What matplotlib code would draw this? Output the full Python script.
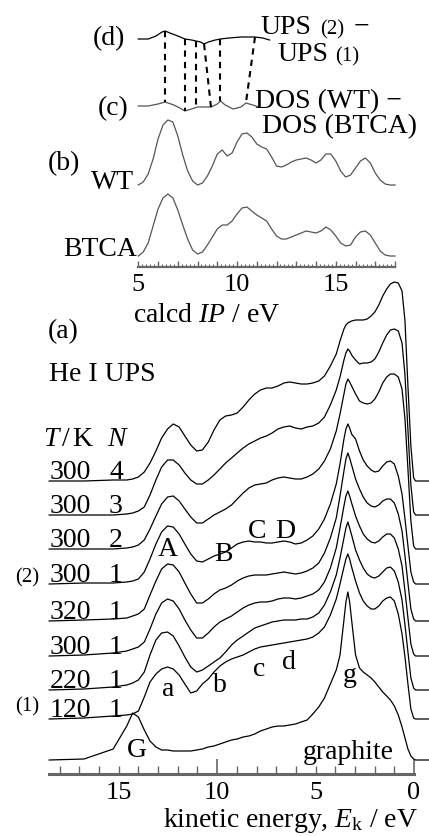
import numpy as np
import matplotlib
matplotlib.use('Agg')
import matplotlib.pyplot as plt

plt.rcParams['font.family'] = ['Liberation Serif', 'DejaVu Serif']
plt.rcParams['mathtext.fontset'] = 'custom'
plt.rcParams['mathtext.rm'] = 'Liberation Serif'
plt.rcParams['mathtext.it'] = 'Liberation Serif:italic'

# ---- data ----
# (a) He I UPS, kinetic energy grid (eV) and intensities (arb. units)
ek = [18.53, 16.76, 15.28, 14.59, 14.29, 14.00, 13.70, 13.41, 13.11, 12.82,
      12.52, 12.23, 11.93, 11.64, 11.34, 11.04, 10.75, 10.45, 10.16, 9.86,
      9.57, 9.27, 8.98, 8.68, 8.39, 8.09, 7.80, 7.50, 7.21, 6.91,
      6.61, 6.32, 6.02, 5.73, 5.43, 5.14, 4.84, 4.55, 4.25, 3.95,
      3.76, 3.56, 3.46, 3.36, 3.27, 3.17, 2.97, 2.77, 2.58, 2.38,
      2.18, 1.99, 1.79, 1.59, 1.39, 1.20, 1.00, 0.80, 0.61, 0.46,
      0.31, 0.16, 0.02, -0.08, -0.77]

ups_300_4 = [0, 0, 1, 1, 2, 4, 9, 18, 30, 43, 52, 57, 54, 45, 36, 30, 31, 39, 51, 61,
             65, 66, 68, 74, 81, 87, 91, 93, 93, 95, 98, 99, 98, 97, 97, 98, 100, 105, 115, 127,
             140, 152, 156, 158, 159, 160, 161, 161, 161, 162, 165, 169, 176, 185, 192, 197, 199, 198, 190, 160,
             95, 35, 3, 0, 0]
ups_300_3 = [0, 0, 0, 1, 2, 4, 8, 20, 35, 48, 55, 55, 50, 42, 35, 31, 31, 35, 40, 46,
             52, 57, 62, 67, 71, 74, 77, 79, 82, 86, 88, 89, 87, 86, 88, 89, 92, 98, 110, 125,
             138, 155, 162, 166, 164, 160, 155, 151, 152, 152, 153, 156, 163, 172, 180, 185, 186, 184, 172, 140,
             85, 30, 3, 0, 0]
ups_300_2 = [0, 0, 0, 1, 2, 4, 9, 20, 33, 45, 52, 53, 48, 40, 32, 26, 26, 30, 34, 37,
             40, 44, 50, 56, 61, 64, 65, 66, 69, 71, 72, 71, 70, 70, 72, 75, 80, 88, 100, 118,
             135, 155, 165, 170, 167, 163, 155, 148, 146, 145, 146, 150, 157, 166, 172, 175, 175, 172, 160, 130,
             80, 28, 3, 0, 0]
ups_300_1b = [0, 1, 1, 2, 3, 5, 12, 25, 40, 52, 58, 57, 50, 40, 30, 23, 22, 25, 28, 30,
              32, 36, 40, 42, 43, 42, 42, 41, 41, 42, 43, 42, 40, 41, 44, 48, 55, 65, 80, 100,
              120, 145, 155, 160, 156, 150, 145, 133, 124, 118, 114, 112, 113, 118, 122, 123, 120, 108, 90, 65,
              38, 12, 2, 0, 0]
ups_320_1 = [0, 1, 2, 3, 5, 7, 12, 26, 40, 52, 57, 56, 49, 38, 27, 18, 18, 22, 27, 31,
             33, 36, 40, 43, 45, 46, 46, 46, 47, 48, 49, 48, 47, 48, 50, 53, 58, 68, 83, 103,
             125, 150, 162, 168, 163, 156, 142, 132, 124, 118, 115, 114, 116, 120, 122, 122, 118, 107, 90, 65,
             38, 12, 2, 0, 0]
ups_300_1a = [0, 1, 3, 5, 7, 9, 14, 27, 42, 53, 57, 55, 47, 36, 26, 18, 18, 23, 29, 34,
              37, 40, 44, 48, 51, 53, 54, 54, 55, 57, 58, 58, 57, 58, 60, 62, 66, 74, 88, 108,
              128, 150, 160, 165, 160, 153, 140, 130, 122, 117, 114, 113, 115, 119, 122, 122, 118, 107, 90, 65,
              38, 12, 2, 0, 0]
ups_220_1 = [0, 1, 3, 5, 7, 10, 18, 35, 50, 57, 58, 54, 44, 33, 23, 18, 20, 24, 28, 32,
             38, 45, 50, 54, 58, 62, 64, 66, 68, 69, 70, 70, 70, 71, 71, 73, 77, 85, 98, 115,
             132, 152, 162, 168, 162, 155, 140, 130, 122, 116, 113, 112, 114, 118, 122, 123, 119, 108, 90, 65,
             38, 12, 2, 0, 0]
ups_120_1 = [0, 1, 3, 4, 5, 8, 22, 37, 45, 50, 52, 50, 44, 35, 26, 28, 35, 40, 47, 53,
             57, 60, 62, 64, 67, 70, 72, 73, 74, 75, 76, 77, 78, 79, 80, 82, 86, 92, 104, 120,
             135, 152, 160, 165, 160, 152, 138, 126, 118, 113, 110, 110, 113, 118, 121, 122, 118, 105, 85, 62,
             35, 10, 1, 0, 0]
ups_graphite = [0, 1, 11, 34, 47, 43, 30, 19, 13, 10, 10, 9, 9, 9, 9, 10, 11, 13, 14, 16,
                18, 20, 21, 23, 24, 26, 29, 31, 33, 34, 34, 35, 36, 38, 40, 46, 53, 62, 76, 90,
                105, 140, 158, 168, 158, 140, 105, 92, 88, 85, 82, 78, 73, 68, 64, 60, 54, 45, 33, 22,
                11, 4, 1, 0, 0]

spectra = [ups_300_4, ups_300_3, ups_300_2, ups_300_1b, ups_320_1,
           ups_300_1a, ups_220_1, ups_120_1, ups_graphite]
temps = ['300', '300', '300', '300', '320', '300', '220', '120']
layers = ['4', '3', '2', '1', '1', '1', '1', '1']

# (b) calculated DOS vs IP (eV)
ip = [5.0, 5.25, 5.5, 5.75, 6.0, 6.25, 6.5, 6.75, 7.0, 7.25, 7.5, 7.75, 8.0, 8.25,
      8.5, 8.75, 9.0, 9.25, 9.5, 9.75, 10.0, 10.25, 10.5, 10.75, 11.0, 11.25, 11.5,
      11.75, 12.0, 12.25, 12.5, 12.75, 13.0, 13.25, 13.5, 13.75, 14.0, 14.25, 14.5,
      14.75, 15.0, 15.25, 15.5, 15.75, 16.0, 16.25, 16.5, 16.75, 17.0, 17.25, 17.5,
      17.75, 18.0]
dos_wt = [0, 3, 11, 26, 46, 60, 65, 63, 49, 30, 14, 4, 0, 2, 9, 19, 31, 35, 29, 32,
          43, 51, 52, 48, 41, 38, 36, 28, 19, 18, 20, 23, 25, 26, 27, 25, 22, 25, 31,
          31, 24, 14, 8, 10, 17, 24, 27, 22, 12, 5, 1, 0, 0]
dos_btca = [1, 5, 14, 31, 48, 59, 63, 59, 47, 32, 18, 7, 3, 5, 12, 20, 28, 32, 32, 36,
            43, 49, 50, 46, 42, 39, 36, 28, 21, 18, 18, 20, 22, 24, 26, 25, 24, 26, 30,
            27, 21, 14, 11, 12, 20, 25, 26, 22, 14, 6, 2, 1, 1]

# (c) DOS(WT) - DOS(BTCA), (d) UPS(2) - UPS(1)
c_ip = [5.0, 5.5, 6.0, 6.36, 6.8, 7.1, 7.36, 7.7, 8.0, 8.35, 8.7, 9.0, 9.16, 9.4,
        9.8, 10.2, 10.45, 10.8, 11.1]
c_val = [0, 0, 2, 4, 1, -2, -5, -3, -1, -1, -1, 2, 5, 1, -3, -1, 3, 1, -1]
d_ip = [5.0, 5.5, 5.9, 6.2, 6.36, 6.6, 7.0, 7.36, 7.7, 7.92, 8.15, 8.33, 8.55, 8.9,
        9.16, 9.6, 10.2, 10.9, 11.3, 11.65]
d_val = [0, 0, 3, 7, 8, 6, 3, 0, -1, -2, -3, -5, -3, -1, 0, 1, 2, 2, 1, -1]

# correspondence lines between (d) and (c) features
link_d = [6.36, 7.36, 7.92, 8.33, 9.16, 10.91]
link_c = [6.36, 7.36, 7.92, 8.68, 9.16, 10.45]

# ---- figure ----
W, H = 429, 837
fig = plt.figure(figsize=(W / 100, H / 100), dpi=100)


def fx(px):
    return px / W


def fy(py):
    return 1 - py / H


def label(px, py, s, size=20, ha='left'):
    fig.text(fx(px), fy(py), s, fontsize=size, ha=ha, va='baseline')


axis_col = '#666666'

# lower panel (a)
ax = fig.add_axes([fx(49), fy(775), fx(429) - fx(49), fy(270) - fy(775)])
ax.patch.set_visible(False)
ax.set_xlim(18.54, -0.76)
ax.set_ylim(0, 505)
offsets = [293, 259, 225, 190, 153, 118, 84, 55, 14]
for spec, off in zip(spectra, offsets):
    ax.plot(ek, np.array(spec) + off, color='k', lw=0.9, clip_on=False)

for s in ['top', 'left', 'right']:
    ax.spines[s].set_visible(False)
ax.spines['bottom'].set_bounds(0, 18.54)
ax.spines['bottom'].set_color(axis_col)
ax.spines['bottom'].set_linewidth(2.2)
ax.set_yticks([])
ax.set_xticks([0, 10])
ax.set_xticklabels(['0', '10'])
minor = [m for m in range(1, 19) if m != 10]
ax.set_xticks(minor, minor=True)
ax.set_xticklabels(['5' if m == 5 else '15' if m == 15 else '' for m in minor], minor=True)
ax.tick_params(axis='x', which='major', direction='in', length=11, width=1.2,
               color=axis_col, labelsize=19, pad=5)
ax.tick_params(axis='x', which='minor', direction='in', length=6, width=1.0,
               color=axis_col, labelsize=19, pad=5)

# upper panel (b)-(d)
ax2 = fig.add_axes([fx(138.3), fy(268), fx(395) - fx(138.3), fy(5) - fy(268)])
ax2.patch.set_visible(False)
ax2.set_xlim(5, 18)
ax2.set_ylim(0, 263)
ax2.plot(ip, np.array(dos_wt) + 82, color='#555555', lw=0.9, clip_on=False)
ax2.plot(ip, np.array(dos_btca) + 10, color='#555555', lw=0.9, clip_on=False)
ax2.plot(c_ip, np.array(c_val) + 161, color='#555555', lw=0.9, clip_on=False)
ax2.plot(d_ip, np.array(d_val) + 228, color='k', lw=0.9, clip_on=False)
for xd, xc in zip(link_d, link_c):
    yd = np.interp(xd, d_ip, d_val) + 228
    yc = np.interp(xc, c_ip, c_val) + 161
    ax2.plot([xd, xc], [yd, yc], color='k', lw=1.5, dashes=(3, 2.5), clip_on=False)

for s in ['top', 'left', 'right']:
    ax2.spines[s].set_visible(False)
ax2.spines['bottom'].set_color(axis_col)
ax2.spines['bottom'].set_linewidth(1.6)
ax2.set_yticks([])
ax2.set_xticks(range(5, 19))
ax2.set_xticklabels([str(t) if t in (5, 10, 15) else '' for t in range(5, 19)])
ax2.set_xticks([5 + 0.2 * k for k in range(66)], minor=True)
ax2.tick_params(axis='x', which='major', direction='in', length=4, width=1.0,
                color=axis_col, labelsize=19, pad=4)
ax2.tick_params(axis='x', which='minor', direction='in', length=2, width=0.8,
                color=axis_col)

# ---- texts ----
label(93, 45, '(d)')
label(260, 34, 'UPS')
label(320, 34, '(2)', size=15)
label(354, 34, '\u2212')
label(277, 61, 'UPS')
label(335, 61, '(1)', size=15)
label(98, 115, '(c)')
label(255, 108, 'DOS (WT) \u2212')
label(262, 133, 'DOS (BTCA)')
label(48, 170, '(b)')
label(134, 189, 'WT', ha='right')
label(137, 256, 'BTCA', ha='right')
label(133, 322, 'calcd $IP$ / eV')

label(48, 338, '(a)')
label(49, 381, 'He I UPS')
label(43, 446, r'$T\,/\,\mathrm{K}$')
label(107, 446, '$N$')
bases = [482, 516, 550, 585, 622, 657, 691, 720]
for t, n, b in zip(temps, layers, bases):
    label(50, b - 3, t)
    label(116, b - 3, n, ha='center')
label(15, 582, '(2)', size=15)
label(15, 711, '(1)', size=15)

label(158, 556, 'A')
label(214, 561, 'B')
label(248, 538, 'C')
label(275, 538, 'D')
label(162, 696, 'a')
label(213, 692, 'b')
label(253, 676, 'c')
label(282, 669, 'd')
label(343, 682, 'g')
label(127, 757, 'G')
label(303, 759, 'graphite')
label(163, 827, r'kinetic energy, $E_\mathrm{k}$ / eV')

fig.savefig('out.png', dpi=100)
